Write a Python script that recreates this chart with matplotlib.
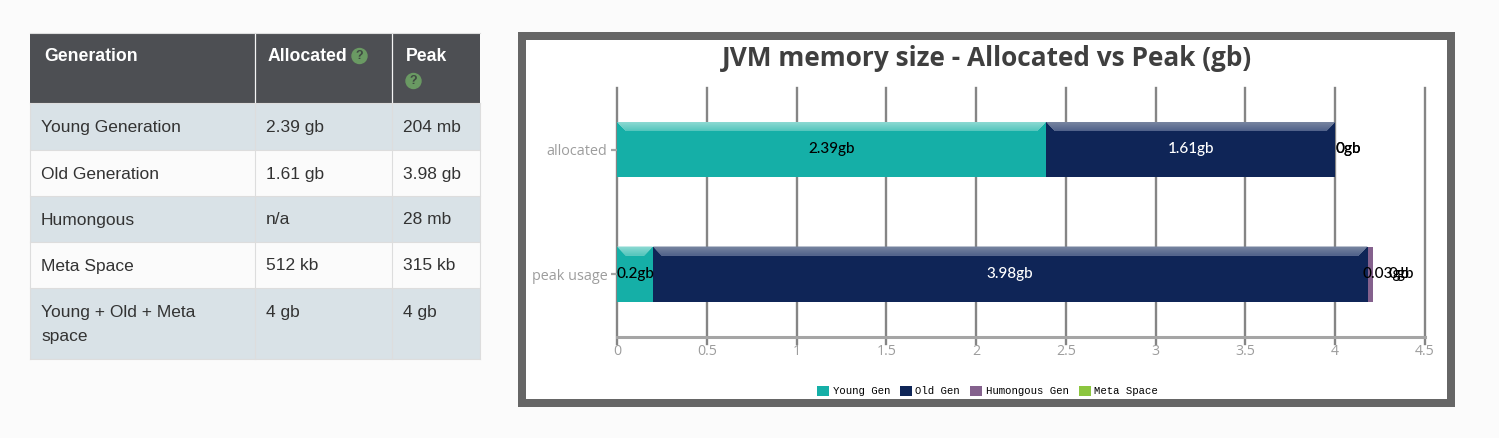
# -*- coding: utf-8 -*-
"""
JVM memory size table and stacked bar chart (allocated vs peak).
"""

import matplotlib
matplotlib.use('Agg')
import matplotlib.pyplot as plt
from matplotlib.patches import Rectangle, Circle

# Table data
table_header = ['Generation', 'Allocated', 'Peak']
table_names = ['Young Generation', 'Old Generation', 'Humongous', 'Meta Space', 'Young + Old + Meta\nspace']
table_allocated = ['2.39 gb', '1.61 gb', 'n/a', '512 kb', '4 gb']
table_peak = ['204 mb', '3.98 gb', '28 mb', '315 kb', '4 gb']

# Chart data
categories = ['allocated', 'peak usage']
series_names = ['Young Gen', 'Old Gen', 'Humongous Gen', 'Meta Space']
allocated_values = [2.39, 1.61, 0, 0]
peak_values = [0.2, 3.98, 0.03, 0]
allocated_labels = ['2.39gb', '1.61gb', '0gb', '0gb']
peak_labels = ['0.2gb', '3.98gb', '0.03gb', '0gb']
x_ticks = [0, 0.5, 1, 1.5, 2, 2.5, 3, 3.5, 4, 4.5]
x_tick_labels = ['0', '0.5', '1', '1.5', '2', '2.5', '3', '3.5', '4', '4.5']

# Styles
W, H = 1499, 438
PAGE = '#fbfbfb'
colors = ['#15afa7', '#0f2557', '#84618d', '#8cc63f']
bevel_tops = ['#8ad8d1', '#76839f', '#84618d', '#8cc63f']
bevel_bottoms = ['#4fc4bb', '#4d5f88', '#84618d', '#8cc63f']
# label shift in pixels, for the segments too thin to hold their label
allocated_shift = [0, 0, 13.5, 13.5]
peak_shift = [0, 0, 16, 28]

TABLE_FONT = 'Liberation Sans'
CHART_FONT = 'Open Sans'
LABEL_FONT = 'Lato'


def blend(c1, c2, t):
    a = matplotlib.colors.to_rgb(c1)
    b = matplotlib.colors.to_rgb(c2)
    return tuple(a[i] + (b[i] - a[i]) * t for i in range(3))


def draw_help_icon(bg, x, y):
    """Small green question mark circle used in the table header."""
    bg.add_patch(Circle((x, y), 7.5, color='#6a9a63', zorder=3))
    bg.text(x, y + 0.3, '?', color='#3f4a42', fontsize=9, fontweight='bold', family=TABLE_FONT,
            ha='center', va='center', zorder=4)


def draw_table(bg):
    """Draws the table on the page axes, in pixel coordinates."""
    col_x = [30, 255.5, 392.5, 480]
    row_y = [33, 103, 150, 195.5, 241.5, 287.5, 358.5]

    bg.add_patch(Rectangle((col_x[0], row_y[0]), col_x[3] - col_x[0], row_y[1] - row_y[0], color='#4d4f53', lw=0))
    for i in range(len(table_names)):
        fill = '#d9e2e7' if i % 2 == 0 else '#fbfbfb'
        bg.add_patch(Rectangle((col_x[0], row_y[i + 1]), col_x[3] - col_x[0], row_y[i + 2] - row_y[i + 1],
                               color=fill, lw=0))
    for x in col_x:
        bg.plot([x, x], [row_y[1], row_y[-1]], color='#dddddd', lw=0.8)
    for x in col_x[1:3]:
        bg.plot([x, x], [row_y[0], row_y[1]], color='#f4f4f4', lw=0.9)
    for y in row_y[1:]:
        bg.plot([col_x[0], col_x[3]], [y, y], color='#dddddd', lw=0.8)
    bg.plot([col_x[0], col_x[3]], [row_y[0], row_y[0]], color='#dddddd', lw=0.8)

    for x, name in zip([44, 268, 406], table_header):
        bg.text(x, 56.5, name, color='white', fontsize=12.7, fontweight='bold', family=TABLE_FONT, va='center')
    draw_help_icon(bg, 359.5, 56)
    draw_help_icon(bg, 413.5, 81)

    for i in range(len(table_names)):
        y = row_y[i + 1] + 24.5
        for x, value in zip([41, 266, 403.5], [table_names[i], table_allocated[i], table_peak[i]]):
            # multi line names start on the same baseline as the other cells
            lines = value.split('\n')
            for j, line in enumerate(lines):
                bg.text(x, y + j * 25, line, color='#333333', fontsize=12.5, family=TABLE_FONT, va='center')


def draw_frame(bg):
    """Grey frame around the chart."""
    bg.add_patch(Rectangle((518, 32), 937, 375, color='#666666', lw=0))
    bg.add_patch(Rectangle((526, 40), 921, 359, color='white', lw=0))
    bg.text(987.5, 59, 'JVM memory size - Allocated vs Peak (gb)', color='#3f3f3f', fontsize=18.9,
            fontweight='bold', family=CHART_FONT, ha='center', va='center')


def draw_segment(ax, left, value, y, bar_height, color, top, bottom):
    """One bar segment with the lighter bevelled band along its top."""
    bars = ax.barh(y, value, height=bar_height, left=left, color=color, linewidth=0, zorder=3)
    bevel_w = 9 * 4.5 / 808
    bevel_h = 9 * 2.0 / 249
    if value > 2 * bevel_w:
        # nested trapezoids, each one painted over the last, gives the gradient
        strips = 9
        y1 = y + bar_height / 2 - bevel_h
        for s in range(strips):
            t0 = s / strips
            y0 = y + bar_height / 2 - bevel_h * t0
            ax.fill([left + bevel_w * t0, left + value - bevel_w * t0, left + value - bevel_w, left + bevel_w],
                    [y0, y0, y1, y1], color=blend(top, bottom, t0), lw=0, zorder=4)
    return bars


def draw_chart(ax):
    """Stacked horizontal bars with grid, labels and legend."""
    y_pos = [1, 0]
    bar_height = 55 * 2.0 / 249

    for x in x_ticks:
        ax.plot([x, x], [-7 / 249, 1], transform=ax.get_xaxis_transform(), color='#858585', lw=1.7,
                clip_on=False, zorder=1)
    ax.plot([0, 1], [0, 0], transform=ax.transAxes, color='#a5a5a5', lw=2.2, clip_on=False, zorder=2)

    handles = []
    rows = [(allocated_values, allocated_labels, allocated_shift), (peak_values, peak_labels, peak_shift)]
    for y, (values, labels, shifts) in zip(y_pos, rows):
        left = 0
        handles = []
        for i in range(len(values)):
            handles.append(draw_segment(ax, left, values[i], y, bar_height, colors[i], bevel_tops[i], bevel_bottoms[i]))
            text_color = 'white' if i == 1 and values[i] > 0 else 'black'
            ax.annotate(labels[i], (left + values[i] / 2, y), xytext=(shifts[i] * 0.72, 0.3),
                        textcoords='offset points', color=text_color, fontsize=11, family=LABEL_FONT,
                        fontweight='medium', ha='center', va='center', zorder=5)
            left += values[i]

    ax.set_xlim(0, 4.5)
    ax.set_ylim(-0.506, 1.494)
    ax.patch.set_alpha(0)
    for side in ax.spines:
        ax.spines[side].set_visible(False)
    ax.set_xticks(x_ticks)
    ax.set_xticklabels(x_tick_labels, color='#9d9d9d', fontsize=10.2, family=CHART_FONT)
    ax.tick_params(axis='x', length=0, pad=5)
    ax.set_yticks(y_pos)
    ax.set_yticklabels(categories, color='#9d9d9d', fontsize=10.4, family=CHART_FONT)
    ax.tick_params(axis='y', length=4, width=1.6, color='#a5a5a5', pad=3)

    ax.legend([h[0] for h in handles], series_names, ncol=4, loc='center', bbox_to_anchor=(987.5 / W, 1 - 391 / H),
              bbox_transform=ax.figure.transFigure, frameon=False, prop={'family': 'Liberation Mono', 'size': 7.7},
              handlelength=1.14, handleheight=1.1, handletextpad=0.3, columnspacing=0.95, borderpad=0, borderaxespad=0)


fig = plt.figure(figsize=(W / 100, H / 100), dpi=100, facecolor=PAGE)

page_ax = fig.add_axes([0, 0, 1, 1])
page_ax.set_xlim(0, W)
page_ax.set_ylim(H, 0)
page_ax.axis('off')
draw_table(page_ax)
draw_frame(page_ax)

chart_ax = fig.add_axes([617 / W, 1 - 337 / H, 808 / W, 249 / H])
draw_chart(chart_ax)

fig.savefig('out.png', dpi=100, facecolor=PAGE)
